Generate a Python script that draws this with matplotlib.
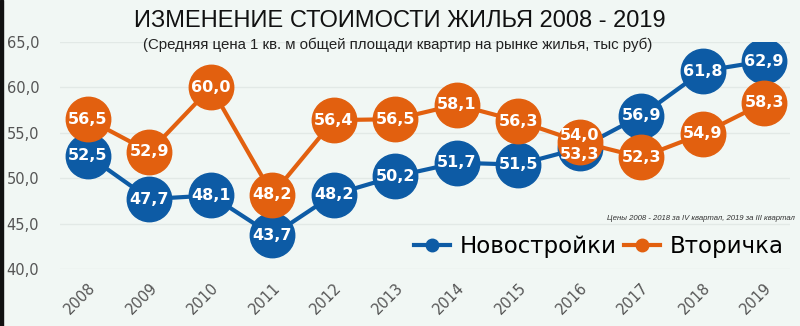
import matplotlib
matplotlib.use("Agg")
import matplotlib.pyplot as plt
from matplotlib.lines import Line2D
from matplotlib.patches import Rectangle

years = [2008, 2009, 2010, 2011, 2012, 2013, 2014, 2015, 2016, 2017, 2018, 2019]
new_build = [52.5, 47.7, 48.1, 43.7, 48.2, 50.2, 51.7, 51.5, 53.3, 56.9, 61.8, 62.9]
resale = [56.5, 52.9, 60.0, 48.2, 56.4, 56.5, 58.1, 56.3, 54.0, 52.3, 54.9, 58.3]
y_ticks = [40, 45, 50, 55, 60, 65]

BLUE = "#0d5ba5"
ORANGE = "#e2600f"
BG = "#f1f7f4"
GREY = "#555555"
NARROW = ["Liberation Sans", "DejaVu Sans"]


def fmt(v):
    return f"{v:.1f}".replace(".", ",")


fig = plt.figure(figsize=(8.0, 3.26), dpi=100, facecolor=BG)
ax = fig.add_axes([0.075, 0.175, 0.9125, 0.696], facecolor=BG)
fig.patches.append(Rectangle((0, 0), 0.004, 1, transform=fig.transFigure, color="#111111"))

ax.set_xlim(2007.544, 2019.42)
ax.set_ylim(40, 65)
ax.set_yticks(y_ticks)
ax.set_yticklabels([fmt(t) for t in y_ticks])
ax.set_xticks(years)
ax.set_xticklabels([str(y) for y in years], rotation=45, ha="right", rotation_mode="anchor")
ax.tick_params(axis="both", length=0, colors=GREY, labelsize=10.5)
ax.tick_params(axis="y", pad=15)
ax.tick_params(axis="x", pad=8)
ax.grid(axis="y", color="#e2e9e6", linewidth=1)
ax.set_axisbelow(True)
for s in ax.spines.values():
    s.set_visible(False)

ax.plot(years, new_build, color=BLUE, lw=3, marker="o", ms=32, mec=BLUE, zorder=3)
ax.plot(years, resale, color=ORANGE, lw=3, marker="o", ms=32, mec=ORANGE, zorder=4)

# the 2016 values sit almost on top of each other, nudge their labels apart
for x, a, b in zip(years, new_build, resale):
    da, db = 0, 0
    if abs(a - b) < 1.5:
        da, db = (-0.7, 0.7) if a < b else (0.7, -0.7)
    ax.text(x, a + da, fmt(a), color="white", fontsize=11.5, fontweight="bold",
            ha="center", va="center", zorder=5)
    ax.text(x, b + db, fmt(b), color="white", fontsize=11.5, fontweight="bold",
            ha="center", va="center", zorder=6)

fig.text(0.5, 0.935, "ИЗМЕНЕНИЕ СТОИМОСТИ ЖИЛЬЯ 2008 - 2019", ha="center", va="center",
         fontsize=17, family=NARROW, color="#111111")
fig.text(0.497, 0.862, "(Средняя цена 1 кв. м общей площади квартир на рынке жилья, тыс руб)",
         ha="center", va="center", fontsize=10.8, family=NARROW, color="#222222")
fig.text(0.993, 0.33, "Цены 2008 - 2018 за IV квартал, 2019 за III квартал", ha="right",
         va="center", fontsize=5.6, style="italic", family=NARROW, color="#333333")

handles = [Line2D([], [], color=BLUE, lw=3, marker="o", ms=9),
           Line2D([], [], color=ORANGE, lw=3, marker="o", ms=9)]
fig.legend(handles, ["Новостройки", "Вторичка"], loc="center right",
           bbox_to_anchor=(1.005, 0.245), ncol=2, frameon=False, fontsize=16.5,
           handlelength=1.6, handletextpad=0.4, columnspacing=0.3)

fig.savefig("out.png", dpi=100, facecolor=BG)
